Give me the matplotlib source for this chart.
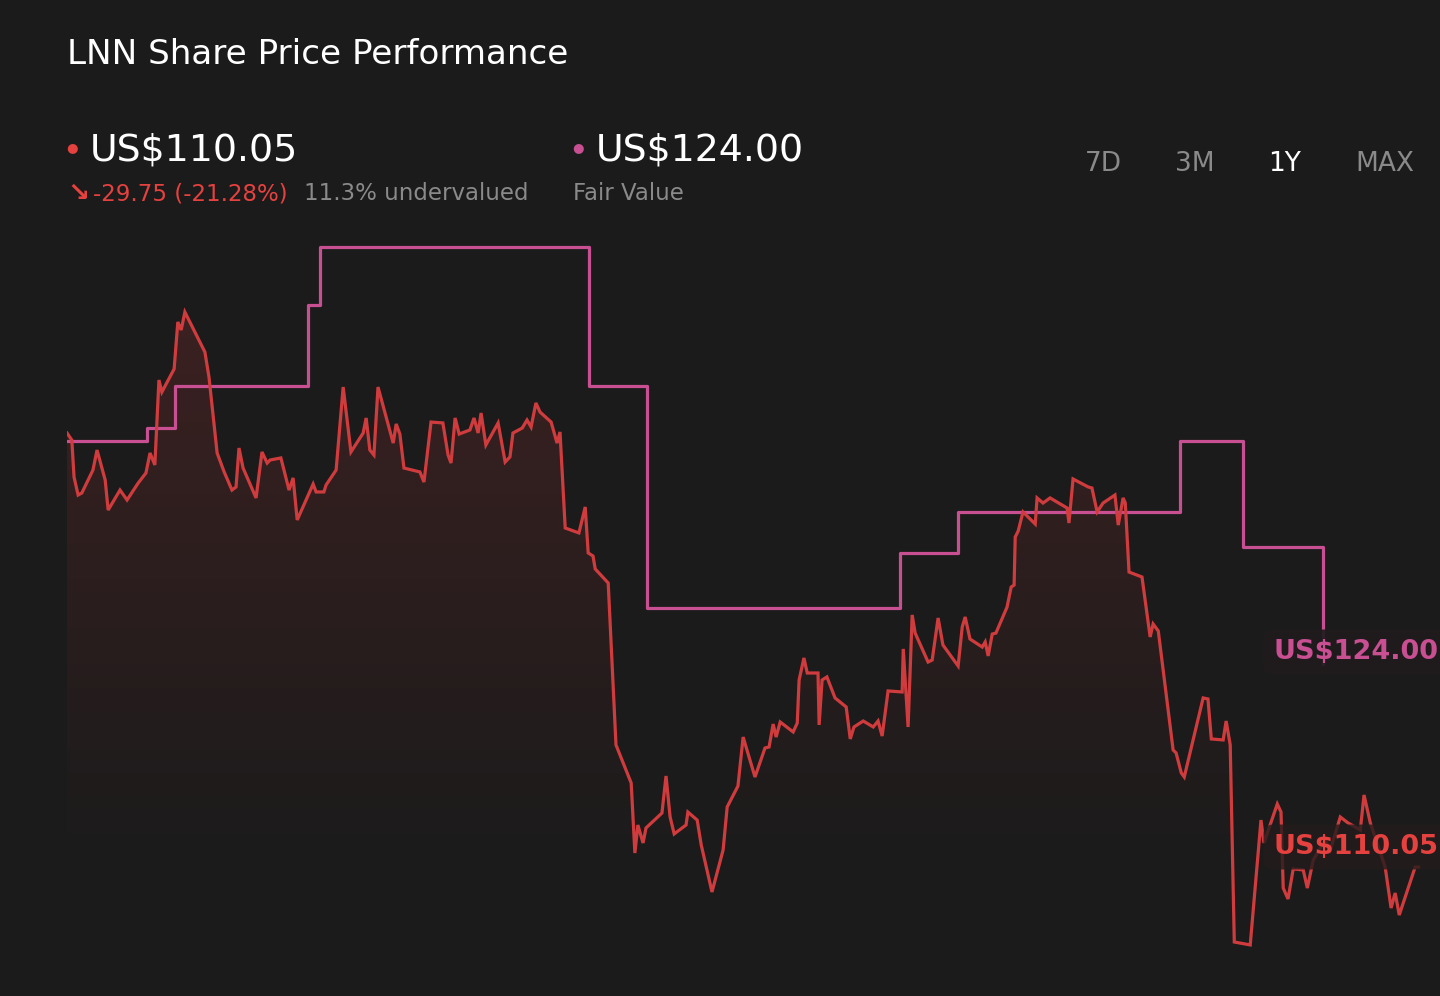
import numpy as np
import matplotlib
matplotlib.use("Agg")
import matplotlib.pyplot as plt
from matplotlib.patches import Polygon

# price history (day of the year, US$)
days = [0.0, 1.3, 1.9, 3.0, 4.0, 7.0, 8.1, 10.3, 11.1, 14.3, 16.2, 19.2, 21.3, 22.4, 23.7,
        24.8, 25.6, 28.9, 29.9, 30.8, 31.8, 37.2, 38.3, 40.5, 42.4, 44.5, 45.6, 46.4, 47.5,
        51.0, 52.6, 54.0, 54.8, 57.7, 59.9, 61.0, 62.1, 66.4, 67.2, 69.3, 69.9, 72.6, 74.5,
        76.6, 79.9, 80.7, 81.7, 82.8, 83.9, 88.0, 88.8, 89.8, 90.9, 95.2, 96.3, 98.2, 101.4,
        102.8, 103.6, 104.7, 105.8, 108.7, 109.8, 110.9, 111.7, 113.0, 116.3, 118.2, 119.5,
        120.3, 122.8, 124.1, 125.2, 126.5, 127.6, 130.6, 132.2, 133.0, 134.4, 138.1, 139.8,
        140.6, 141.9, 142.5, 146.0, 148.1, 152.2, 153.2, 154.0, 155.4, 156.2, 160.5, 161.6,
        162.7, 163.8, 167.0, 167.5, 170.0, 171.1, 174.0, 177.0, 178.1, 181.0, 182.4, 185.6,
        188.3, 189.4, 190.5, 191.3, 192.4, 195.9, 197.0, 197.5, 198.8, 199.7, 202.6, 202.9,
        203.7, 205.0, 207.2, 210.2, 211.3, 212.3, 214.8, 217.5, 218.8, 219.9, 221.5, 225.3,
        225.6, 226.9, 228.0, 228.8, 232.3, 233.4, 235.0, 236.3, 240.4, 241.5, 242.3, 243.6,
        246.9, 247.7, 248.5, 249.6, 250.6, 253.6, 254.7, 255.5, 255.8, 256.6, 257.9, 261.2,
        261.7, 263.3, 265.2, 269.8, 270.3, 271.4, 275.5, 276.5, 277.9, 279.5, 282.7, 283.6,
        284.9, 285.5, 286.5, 290.0, 292.2, 293.0, 294.4, 298.4, 299.2, 300.6, 301.4, 306.5,
        307.8, 308.7, 311.9, 312.7, 313.8, 314.9, 319.2, 322.1, 322.9, 326.5, 327.5, 328.1,
        329.4, 330.8, 333.5, 334.6, 336.2, 339.4, 340.8, 343.5, 345.6, 348.9, 349.9, 351.6,
        355.6, 357.2, 358.3, 359.4, 363.7, 364.8]
price = [139.80, 139.32, 136.78, 135.55, 135.69, 137.26, 138.63, 136.58, 134.52, 135.89,
         135.21, 136.37, 137.06, 138.43, 137.61, 143.43, 142.61, 144.19, 147.41, 146.86,
         148.09, 145.35, 143.64, 138.43, 137.13, 135.89, 136.10, 138.77, 137.40, 135.35,
         138.50, 137.74, 137.95, 138.09, 135.89, 136.72, 133.84, 136.30, 135.76, 135.76,
         136.24, 137.26, 142.95, 138.50, 139.80, 140.83, 138.63, 138.29, 142.95, 139.11,
         140.42, 139.73, 137.40, 137.13, 136.44, 140.55, 140.49, 138.29, 137.74, 140.83,
         139.73, 140.01, 140.83, 139.80, 141.17, 138.98, 140.49, 137.81, 138.16, 139.80,
         140.14, 140.69, 140.21, 141.86, 141.24, 140.55, 139.11, 139.87, 133.29, 132.95,
         134.73, 131.58, 131.37, 130.48, 129.52, 118.42, 115.81, 111.01, 112.93, 111.70,
         112.73, 113.75, 116.29, 113.48, 112.32, 112.93, 113.82, 113.27, 111.56, 108.34,
         111.22, 114.17, 115.60, 118.96, 116.22, 118.21, 118.28, 119.85, 118.96, 119.99,
         119.31, 119.92, 122.87, 124.38, 123.35, 123.35, 119.79, 122.87, 123.08, 121.64,
         121.02, 118.83, 119.65, 120.06, 119.65, 120.06, 119.03, 122.12, 122.05, 125.00,
         119.65, 127.33, 126.09, 124.10, 124.24, 127.12, 125.27, 123.83, 126.50, 127.19,
         125.68, 125.13, 125.48, 124.52, 126.02, 126.09, 127.87, 129.24, 129.38, 132.67,
         133.08, 134.39, 133.56, 135.35, 135.00, 135.35, 134.66, 133.63, 136.65, 136.10,
         136.03, 134.39, 135.00, 135.55, 133.49, 135.35, 135.00, 130.27, 129.93, 125.82,
         126.71, 126.23, 118.07, 117.87, 116.50, 116.22, 121.64, 121.57, 118.83, 118.76,
         120.06, 118.42, 104.91, 104.71, 113.27, 111.70, 114.37, 113.82, 108.61, 107.86,
         109.92, 109.85, 108.61, 110.53, 111.90, 111.22, 113.48, 113.07, 112.59, 114.99,
         113.07, 110.05, 107.24, 108.27, 106.76, 110.05, 110.05]

# analyst fair value estimate, changes on these days
fv_days = [0.0, 21.6, 29.1, 65.0, 68.3, 140.8, 156.5, 224.7, 240.4, 300.3, 317.3, 338.9]
fv_vals = [139.25, 140.14, 143.02, 148.57, 152.55, 143.02, 127.81, 131.58, 134.39,
           139.25, 131.99, 124.00]

last_price = "US$110.05"
fair_value = "US$124.00"
change_txt = "-29.75 (-21.28%)"
valuation_txt = "11.3% undervalued"
periods = ["7D", "3M", "1Y", "MAX"]
active_period = "1Y"

BG = "#1b1b1b"
RED = "#d03c3d"
RED_TXT = "#e5413f"
PINK = "#c84f91"
GREY = "#8a8a8a"

W, H = 1440, 996
fig = plt.figure(figsize=(W / 100, H / 100), dpi=100, facecolor=BG)


def fx(x):
    return x / W


def fy(y):
    return 1 - y / H


ax = fig.add_axes([fx(67), 0, (1420 - 67) / W, 1])
ax.set_facecolor("none")
ax.set_xlim(0, 365)
ax.set_ylim(101.21, 169.48)
ax.axis("off")

# gradient fill under the price line
ybot = 101.21
poly = Polygon(np.column_stack([[days[0]] + days + [days[-1]],
                                [ybot] + price + [ybot]]),
               closed=True, facecolor="none", edgecolor="none")
ax.add_patch(poly)
n = 300
ys = np.linspace(ybot, 155, n)
alpha = np.clip((ys - 109.8) / (148 - 109.8), 0, 1) * 0.18
grad = np.zeros((n, 1, 4))
grad[:, 0, 0] = 0.82
grad[:, 0, 1] = 0.23
grad[:, 0, 2] = 0.24
grad[:, 0, 3] = alpha
im = ax.imshow(grad, extent=[0, 365, ybot, 155], origin="lower", aspect="auto",
               interpolation="bilinear", zorder=1)
im.set_clip_path(poly)
ax.set_ylim(101.21, 169.48)

ax.plot(days, price, color=RED, lw=2.3, zorder=3, solid_joinstyle="miter")
ax.plot(fv_days, fv_vals, color=PINK, lw=2.3, drawstyle="steps-post", zorder=2)

# header
fig.text(fx(67), fy(64), "LNN Share Price Performance", color="white", fontsize=24.6,
         va="baseline")
fig.text(fx(72), fy(148), "\u25cf", color=RED_TXT, fontsize=9.5, va="center", ha="center")
fig.text(fx(90), fy(161), last_price, color="white", fontsize=27.3, va="baseline")
fig.text(fx(578), fy(148), "\u25cf", color=PINK, fontsize=9.5, va="center", ha="center")
fig.text(fx(596), fy(161), fair_value, color="white", fontsize=27.3, va="baseline")
fig.text(fx(67), fy(201), "\u2198", color=RED_TXT, fontsize=19, va="baseline",
         fontweight="bold")
fig.text(fx(93), fy(200), change_txt, color=RED_TXT, fontsize=16.5, va="baseline")
fig.text(fx(304), fy(200), valuation_txt, color=GREY, fontsize=16.5, va="baseline")
fig.text(fx(573), fy(200), "Fair Value", color=GREY, fontsize=16.5, va="baseline")

for label, x in zip(periods, [1085, 1175, 1268, 1355]):
    fig.text(fx(x), fy(171), label, color="white" if label == active_period else GREY,
             fontsize=19, va="baseline")

# end-of-line value tags
fig.text(fx(1273), fy(659), fair_value, color=PINK, fontsize=19.5, fontweight="bold",
         va="baseline", zorder=5,
         bbox=dict(boxstyle="round,pad=0.35", fc="#201b1e", ec="none", alpha=0.92))
fig.text(fx(1273), fy(854), last_price, color=RED_TXT, fontsize=19.5, fontweight="bold",
         va="baseline", zorder=5,
         bbox=dict(boxstyle="round,pad=0.35", fc="#231b1c", ec="none", alpha=0.8))

fig.savefig("out.png", dpi=100, facecolor=BG)
